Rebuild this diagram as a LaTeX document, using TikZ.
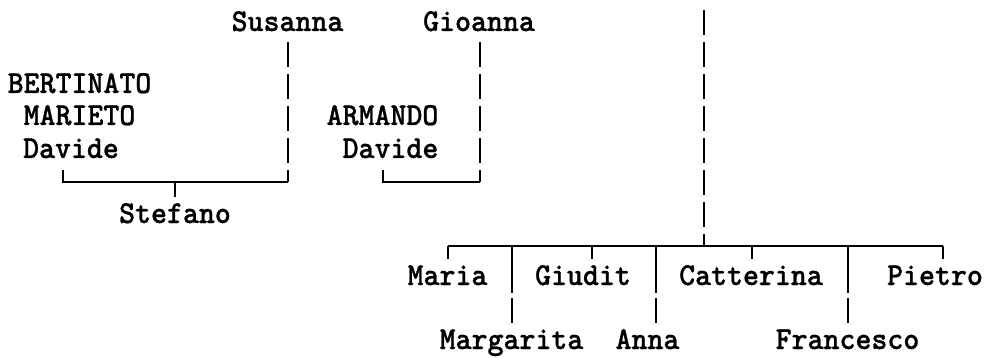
\documentclass[tikz,border=0pt]{standalone}
\usepackage{fontspec}
\newfontfamily\treefont{lmmonolt10-bold.otf}[FakeBold=0.8, FakeStretch=0.95]
\tikzset{
  person/.style={inner sep=0pt, anchor=base, font=\treefont\fontsize{32}{32}\selectfont},
  bar/.style={line width=1.7pt},
  pipe/.style={line width=1.7pt, dash pattern=on 25pt off 7pt},
  pipetwo/.style={line width=1.7pt, dash pattern=on 47pt off 5pt}
}
\begin{document}
\begin{tikzpicture}[x=1pt,y=-1pt]
\useasboundingbox (0,0) rectangle (985,358);
% names
\node[person] (susanna) at (287.5,31) {Susanna};
\node[person] (gioanna) at (479,31) {Gioanna};
\node[person] (bertinato) at (79.5,93) {BERTINATO};
\node[person] (marieto) at (79.5,125) {MARIETO};
\node[person] (davideL) at (71,158) {Davide};
\node[person] (stefano) at (175,223) {Stefano};
\node[person] (armando) at (382.5,125) {ARMANDO};
\node[person] (davideR) at (390.5,158) {Davide};
\node[person] (maria) at (447.5,285) {Maria};
\node[person] (giudit) at (583,285) {Giudit};
\node[person] (catterina) at (751,285) {Catterina};
\node[person] (pietro) at (935,285) {Pietro};
\node[person] (margarita) at (511.5,349) {Margarita};
\node[person] (anna) at (647.5,349) {Anna};
\node[person] (francesco) at (847.5,349) {Francesco};
% junction points
\coordinate (sTop) at (288,42);
\coordinate (sCor) at (288,182);
\coordinate (dLtop) at (63,170);
\coordinate (stefTop) at (175,182);
\coordinate (stefBot) at (175,197);
\coordinate (gTop) at (480,42);
\coordinate (gCor) at (480,182);
\coordinate (dRtop) at (383,170);
\coordinate (mTop) at (704,10);
\coordinate (mBot) at (704,246);
\coordinate (bL) at (448,246);
\coordinate (bR) at (943,246);
% left family
\draw[pipe] (sTop) -- (sCor);
\draw[bar] (dLtop) |- (sCor);
\draw[bar] (stefTop) -- (stefBot);
% Armando family
\draw[pipe] (gTop) -- (gCor);
\draw[bar] (dRtop) |- (gCor);
% main family
\draw[pipe] (mTop) -- (mBot);
\draw[bar] (bL) -- (bR);
\draw[bar] (bL) -- ++(0,13);
\draw[bar] (592,246) -- ++(0,13);
\draw[bar] (752,246) -- ++(0,13);
\draw[bar] (bR) -- ++(0,13);
\draw[pipetwo] (512,246) -- (512,323);
\draw[pipetwo] (656,246) -- (656,323);
\draw[pipetwo] (848,246) -- (848,323);
\end{tikzpicture}
\end{document}
